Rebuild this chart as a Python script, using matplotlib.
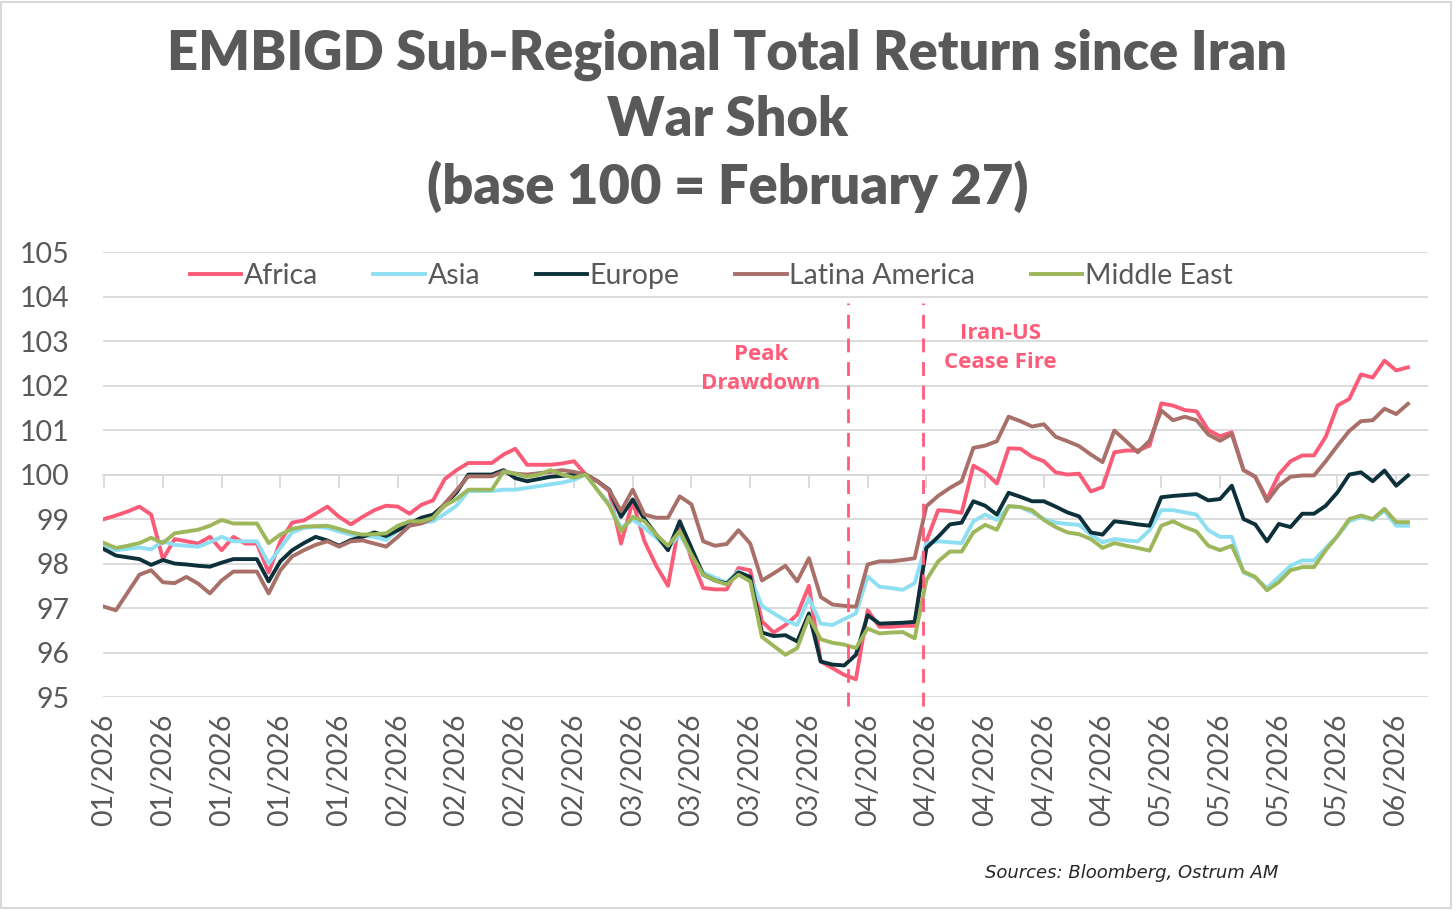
import matplotlib
matplotlib.use("Agg")
import matplotlib.pyplot as plt
from matplotlib.patches import Rectangle

# data: one value per business day, base 100 = Feb 27 (index 41)
africa = [99.00, 99.08, 99.17, 99.28, 99.10, 98.10, 98.55, 98.50, 98.45, 98.60,
          98.30, 98.60, 98.45, 98.45, 97.80, 98.50, 98.92, 98.97, 99.12, 99.28,
          99.05, 98.88, 99.05, 99.20, 99.30, 99.28, 99.12, 99.32, 99.42, 99.90,
          100.10, 100.26, 100.26, 100.26, 100.45, 100.58, 100.22, 100.22, 100.22, 100.25,
          100.30, 100.00, 99.85, 99.63, 98.45, 99.40, 98.50, 97.95, 97.50, 98.95,
          98.10, 97.45, 97.42, 97.42, 97.90, 97.85, 96.70, 96.45, 96.62, 96.85,
          97.50, 95.80, 95.65, 95.50, 95.40, 96.95, 96.58, 96.58, 96.60, 96.60,
          98.50, 99.20, 99.18, 99.14, 100.20, 100.05, 99.80, 100.59, 100.58, 100.40,
          100.30, 100.05, 100.00, 100.02, 99.62, 99.72, 100.50, 100.54, 100.54, 100.65,
          101.60, 101.55, 101.45, 101.42, 101.00, 100.86, 100.95, 100.10, 99.95, 99.45,
          100.00, 100.30, 100.43, 100.43, 100.85, 101.55, 101.70, 102.25, 102.18, 102.56,
          102.34, 102.41]
asia = [98.38, 98.30, 98.33, 98.36, 98.32, 98.50, 98.42, 98.40, 98.38, 98.48,
        98.60, 98.50, 98.50, 98.50, 98.00, 98.35, 98.70, 98.80, 98.83, 98.80,
        98.72, 98.65, 98.62, 98.60, 98.53, 98.75, 98.90, 98.92, 98.95, 99.12,
        99.30, 99.63, 99.63, 99.63, 99.66, 99.66, 99.70, 99.74, 99.78, 99.82,
        99.88, 100.00, 99.65, 99.35, 98.80, 98.99, 98.80, 98.58, 98.35, 98.65,
        98.20, 97.80, 97.68, 97.57, 97.83, 97.68, 97.05, 96.88, 96.72, 96.62,
        97.22, 96.65, 96.62, 96.75, 96.88, 97.71, 97.48, 97.45, 97.41, 97.56,
        98.45, 98.50, 98.48, 98.46, 98.95, 99.10, 98.98, 99.29, 99.27, 99.15,
        99.00, 98.92, 98.89, 98.87, 98.65, 98.48, 98.55, 98.52, 98.50, 98.75,
        99.20, 99.20, 99.15, 99.10, 98.75, 98.60, 98.60, 97.80, 97.68, 97.45,
        97.70, 97.95, 98.07, 98.07, 98.35, 98.62, 98.95, 99.05, 98.98, 99.19,
        98.85, 98.85]
europe = [98.32, 98.18, 98.14, 98.10, 97.97, 98.08, 98.00, 97.98, 97.95, 97.93,
          98.02, 98.10, 98.10, 98.10, 97.60, 98.05, 98.30, 98.46, 98.60, 98.52,
          98.40, 98.53, 98.60, 98.70, 98.62, 98.75, 98.90, 99.03, 99.10, 99.33,
          99.60, 100.00, 100.00, 100.00, 100.10, 99.92, 99.85, 99.90, 99.95, 99.97,
          100.00, 100.00, 99.85, 99.66, 99.05, 99.44, 99.00, 98.65, 98.30, 98.95,
          98.35, 97.75, 97.62, 97.55, 97.80, 97.70, 96.45, 96.37, 96.39, 96.25,
          96.88, 95.80, 95.73, 95.71, 95.95, 96.84, 96.65, 96.66, 96.67, 96.69,
          98.35, 98.60, 98.88, 98.92, 99.40, 99.30, 99.10, 99.59, 99.50, 99.40,
          99.40, 99.28, 99.15, 99.06, 98.70, 98.65, 98.95, 98.92, 98.88, 98.85,
          99.49, 99.52, 99.54, 99.56, 99.42, 99.45, 99.75, 99.00, 98.88, 98.50,
          98.89, 98.82, 99.12, 99.12, 99.30, 99.60, 100.00, 100.05, 99.85, 100.09,
          99.75, 99.98]
latam = [97.03, 96.95, 97.35, 97.75, 97.85, 97.58, 97.56, 97.70, 97.55, 97.33,
         97.62, 97.82, 97.82, 97.82, 97.33, 97.85, 98.16, 98.30, 98.42, 98.50,
         98.38, 98.50, 98.52, 98.45, 98.38, 98.60, 98.85, 98.90, 99.02, 99.35,
         99.65, 99.96, 99.96, 99.96, 100.07, 100.02, 100.00, 100.03, 100.06, 100.10,
         100.06, 100.00, 99.85, 99.65, 99.18, 99.66, 99.10, 99.03, 99.03, 99.51,
         99.33, 98.50, 98.40, 98.44, 98.75, 98.45, 97.62, 97.78, 97.95, 97.60,
         98.12, 97.25, 97.08, 97.05, 97.03, 97.98, 98.05, 98.05, 98.08, 98.12,
         99.29, 99.52, 99.70, 99.85, 100.60, 100.65, 100.75, 101.30, 101.20, 101.08,
         101.13, 100.85, 100.75, 100.64, 100.45, 100.28, 100.99, 100.75, 100.50, 100.76,
         101.44, 101.22, 101.30, 101.22, 100.90, 100.76, 100.91, 100.10, 99.95, 99.40,
         99.75, 99.95, 99.98, 99.98, 100.30, 100.65, 100.98, 101.20, 101.22, 101.48,
         101.36, 101.59]
mideast = [98.46, 98.35, 98.40, 98.46, 98.58, 98.46, 98.68, 98.72, 98.76, 98.85,
           98.98, 98.90, 98.90, 98.90, 98.46, 98.65, 98.78, 98.83, 98.84, 98.85,
           98.78, 98.70, 98.65, 98.66, 98.68, 98.85, 98.95, 98.95, 99.03, 99.30,
           99.45, 99.66, 99.66, 99.66, 100.07, 100.02, 99.95, 100.00, 100.10, 100.00,
           99.93, 100.00, 99.65, 99.30, 98.73, 99.05, 98.95, 98.65, 98.40, 98.73,
           98.20, 97.75, 97.62, 97.53, 97.75, 97.60, 96.35, 96.15, 95.95, 96.10,
           96.80, 96.30, 96.22, 96.18, 96.10, 96.54, 96.43, 96.45, 96.46, 96.32,
           97.63, 98.05, 98.27, 98.27, 98.70, 98.87, 98.76, 99.29, 99.27, 99.20,
           98.98, 98.82, 98.70, 98.66, 98.55, 98.35, 98.46, 98.40, 98.35, 98.29,
           98.85, 98.95, 98.82, 98.72, 98.40, 98.30, 98.40, 97.82, 97.70, 97.40,
           97.58, 97.85, 97.92, 97.92, 98.30, 98.62, 99.00, 99.08, 99.00, 99.23,
           98.93, 98.93]

series_names = ["Africa", "Asia", "Europe", "Latina America", "Middle East"]
series_values = [africa, asia, europe, latam, mideast]
colors = ["#FA5C78", "#8EDFF2", "#0D313B", "#A87068", "#9DB75A"]

# a label every 5th business day
tick_labels = ["01/2026"] * 5 + ["02/2026"] * 4 + ["03/2026"] * 4 + \
              ["04/2026"] * 5 + ["05/2026"] * 4 + ["06/2026"]
tick_step = 5

# events (position on the day axis)
events = [63.3, 69.7]
event_texts = ["Peak\nDrawdown", "Iran-US\nCease Fire"]
event_text_pos = [(55.9, 102.38), (76.3, 102.84)]

grey = "#595959"
pink = "#FF5C7A"

fig = plt.figure(figsize=(14.55, 9.1), dpi=100)
ax = fig.add_axes([0.0708, 0.234, 0.9106, 0.489])

x = list(range(len(africa)))
for name, vals, c in zip(series_names, series_values, colors):
    ax.plot(x, vals, color=c, lw=2.8, label=name, solid_joinstyle="round")

ax.set_ylim(95, 105)
ax.set_xlim(-0.1, 112.7)
ax.set_yticks(range(95, 106))
ax.grid(axis="y", color="#D9D9D9", lw=1.3)
ax.set_axisbelow(True)
for s in ax.spines.values():
    s.set_visible(False)

ticks = list(range(0, len(x), tick_step))
ax.set_xticks(ticks, labels=tick_labels, rotation=90)
ax.tick_params(axis="x", length=0, pad=12, labelsize=20.5, labelcolor=grey)
ax.tick_params(axis="y", length=0, pad=24, labelsize=20.5, labelcolor=grey)
for lab in ax.get_xticklabels() + ax.get_yticklabels():
    lab.set_family("Lato")

# category axis line crosses at 100
sec = ax.secondary_xaxis(0.5)
sec.set_alignment("bottom")
sec.set_xticks(ticks, labels=[""] * len(ticks))
sec.tick_params(direction="out", length=9, width=1.3, color="#D9D9D9")
sec.spines["bottom"].set_color("#D9D9D9")
sec.spines["bottom"].set_linewidth(1.3)

for ev, txt, (tx, ty) in zip(events, event_texts, event_text_pos):
    ax.vlines(ev, 94.8, 103.85, colors=pink, linestyles=(0, (5, 3.5)), lw=2.0, clip_on=False)
    ax.text(tx, ty, txt, color=pink, fontsize=16, fontweight="bold", ha="center",
            va="center", family="Open Sans", linespacing=1.5)

ax.legend(loc="center", bbox_to_anchor=(0.459, 0.946), ncol=5, frameon=False,
          prop={"family": "Lato", "size": 20.5}, labelcolor=grey, handlelength=1.8,
          handletextpad=0.1, columnspacing=1.95)

fig.text(0.5, 0.867, "EMBIGD Sub-Regional Total Return since Iran\nWar Shok\n(base 100 = February 27)",
         ha="center", va="center", fontsize=39, fontweight="heavy", color=grey,
         family="Lato", linespacing=1.34)

fig.text(0.677, 0.041, "Sources: Bloomberg, Ostrum AM", fontsize=13, style="italic",
         color="#262626", family=["Liberation Sans Narrow", "DejaVu Sans"], va="center")

fig.patches.append(Rectangle((0.001, 0.002), 0.996, 0.996, transform=fig.transFigure,
                             fill=False, edgecolor="#D9D9D9", lw=1.5))

fig.savefig("out.png", dpi=100)
